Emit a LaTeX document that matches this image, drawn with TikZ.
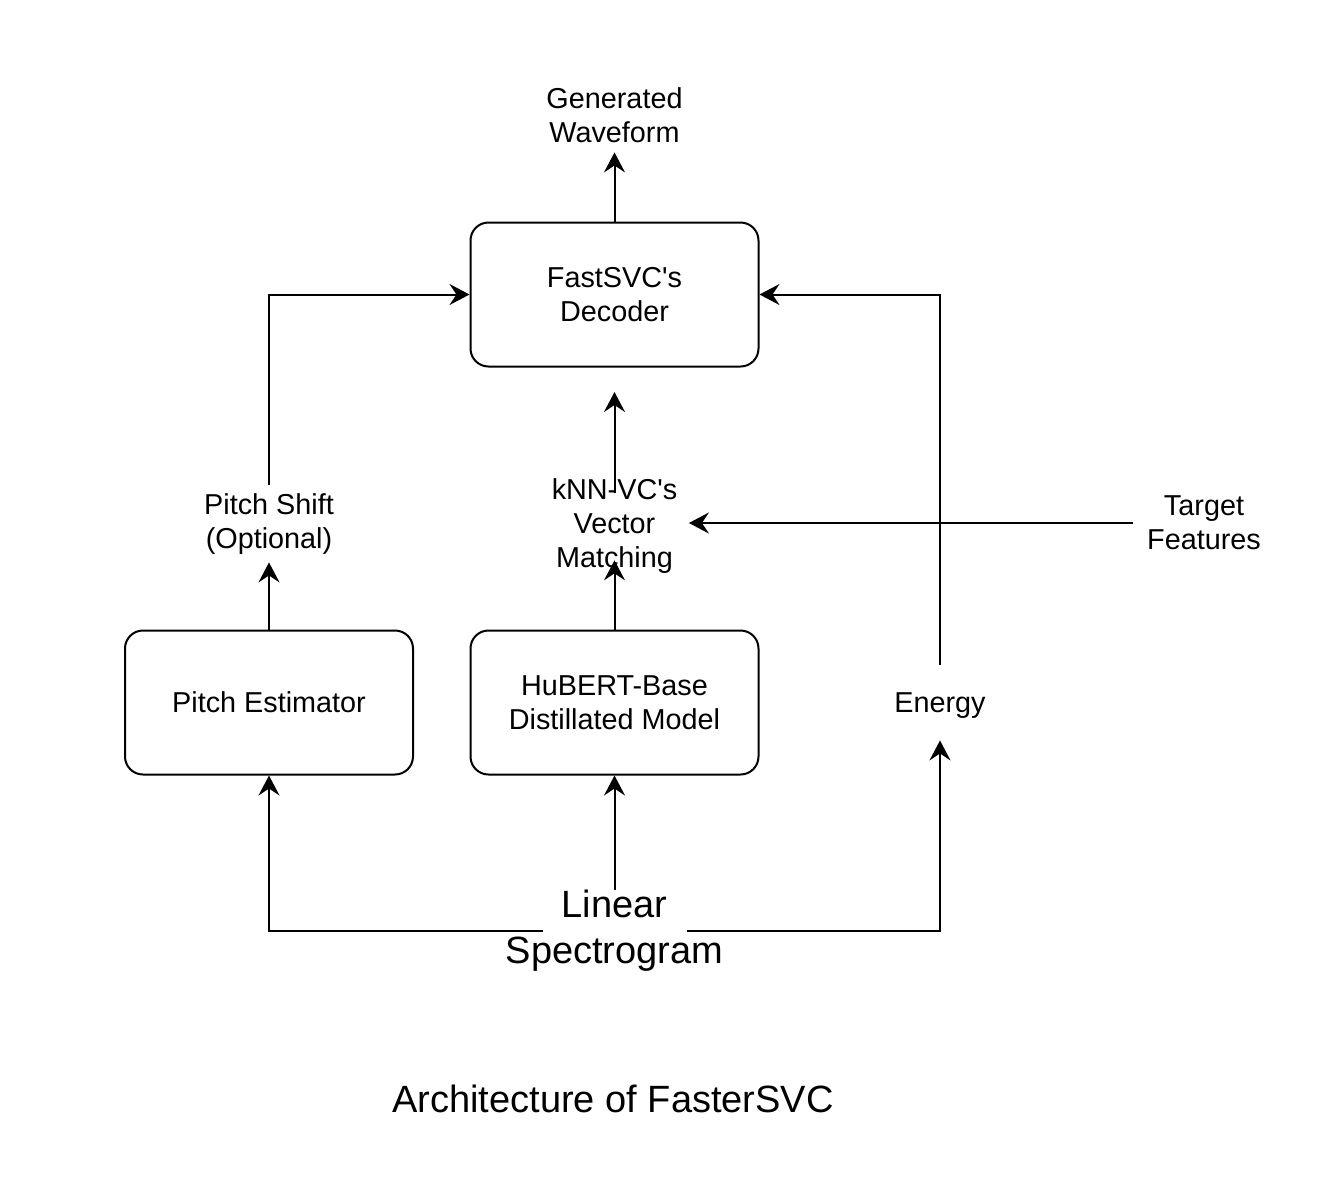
\documentclass[tikz,border=0pt]{standalone}
\usepackage{fontspec}
\setmainfont{Liberation Sans}
\usetikzlibrary{arrows.meta}
\tikzset{
  blk/.style={draw,rounded corners=9pt,line width=1pt,minimum width=144pt,minimum height=72pt,align=center,font=\fontsize{14.4}{17}\selectfont},
  lbl/.style={inner sep=0pt,align=center,font=\fontsize{14.4}{17}\selectfont},
  big/.style={inner sep=0pt,align=center,font=\fontsize{19}{23}\selectfont},
  flow/.style={-{Stealth[length=10pt,width=10.5pt,inset=3.5pt]},line width=1pt}
}
\begin{document}
\begin{tikzpicture}[x=0.5pt,y=-0.5pt]
\useasboundingbox (0,0) rectangle (1319,1196);
%\draw[help lines,step=100] (0,0) grid (1319,1196);
\foreach \x/\y/\n/\t in {614.5/294.5/dec/{FastSVC\textquotesingle s\\Decoder}, 269/702.5/pe/{Pitch Estimator}, 614.5/702.5/hub/{HuBERT-Base\\Distillated Model}}
  \node[blk] (\n) at (\x,\y) {\t};

\node[lbl,minimum height=37pt] (gen) at (614.5,115) {Generated\\Waveform};
\node[lbl,minimum height=37.5pt] (shift) at (269,524.5) {Pitch Shift\\(Optional)};
\node[lbl,minimum width=74pt] (knn) at (614.5,526.5) {kNN-VC\textquotesingle s\\Vector\\Matching};
\node[lbl,minimum width=71pt] (tgt) at (1204,523) {Target\\Features};
\node[lbl,minimum height=37.5pt,text depth=0pt] (nrg) at (940,702.5) {Energy};
\node[big] (spec) at (614.5,931) {Linear\\Spectrogram};
\node[big] (cap) at (613,1099) {Architecture of FasterSVC};
\coordinate (kin) at (614.5,392);

\draw[flow] (dec.north) -- (gen.south);
\draw[flow] (pe.north) -- (shift.south);
\draw[flow,shorten <=1pt] (shift.north) |- (dec.west);
\draw[flow,shorten >=-7pt] (hub.north) -- (knn.south);
\draw[flow,shorten <=-7pt] (knn.north) -- (kin);
\draw[flow] (tgt.west) -- (tgt.west -| knn.east);
\draw[flow] (nrg.north) |- (dec.east);
\draw[flow] (spec.north) -- (hub.south);
\draw[flow,shorten <=36pt] (spec.center) -| (pe.south);
\draw[flow,shorten <=36pt] (spec.center) -| (nrg.south);
\end{tikzpicture}
\end{document}
